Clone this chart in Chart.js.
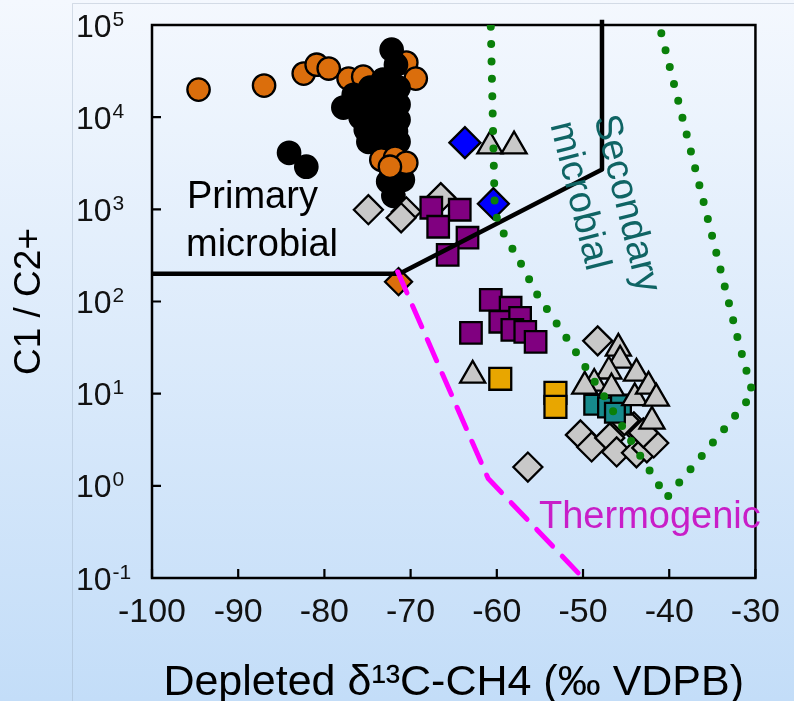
<!DOCTYPE html>
<html><head><meta charset="utf-8">
<script src="https://cdn.jsdelivr.net/npm/chart.js@4.4.1/dist/chart.umd.min.js"></script>
<style>html,body{margin:0;padding:0;background:#dbe9fb;overflow:hidden}canvas{display:block}</style>
</head><body>
<canvas id="c" width="794" height="701"></canvas>
<script>
// ---- axis ticks ----
const xTickValues = [-100, -90, -80, -70, -60, -50, -40, -30];
const yTickValues = [0.1, 1, 10, 100, 1000, 10000, 100000];
const yTickExponents = ['-1', '0', '1', '2', '3', '4', '5'];
const xTitle = 'Depleted \u03B4\u00B9\u00B3C-CH4 (\u2030 VDPB)';
const yTitle = 'C1 / C2+';

// ---- data series [delta13C, C1/C2+] ----
const orangeCirclesBack = [[-94.6,19900],[-87.0,22000],[-82.4,29700],[-80.9,37100],[-79.5,33700],[-77.2,26200],[-75.5,27500],[-70.5,39100],[-69.4,26200]];
const blackCircles = [[-72.2,54000],[-71.7,37100],[-73.2,25500],[-74.7,20900],[-72.6,19900],[-71.4,20900],[-76.6,17500],[-77.8,12700],[-76.0,13700],[-74.3,15500],[-72.4,14700],[-71.4,13700],[-75.8,9900],[-74.0,10600],[-72.0,9900],[-71.4,9400],[-75.2,7300],[-73.5,7300],[-71.7,7000],[-74.9,5400],[-72.9,5000],[-71.4,5400],[-72.4,4200],[-72.6,2000],[-70.9,2090],[-72.0,1400],[-84.1,4100],[-82.1,2900]];
const orangeCirclesFront = [[-73.4,3460],[-71.8,3630],[-70.5,3200],[-72.4,2900]];
const grayDiamonds = [[-74.9,990],[-70.5,940],[-71.1,810],[-66.5,1340],[-56.4,1.6],[-48.3,37.4],[-50.3,3.57],[-49.0,2.64],[-46.9,3.31],[-46.1,2.33],[-43.8,2.28],[-42.6,2.58],[-41.8,2.92],[-44.1,4.37],[-43.0,3.75],[-45.2,5.1]];
const tealSquares = [[-48.7,7.6],[-47.1,7.1],[-45.6,7.6],[-46.3,6.2]];
const blueDiamonds = [[-63.7,5290],[-60.4,1150]];
const grayTriangles = [[-60.8,4850],[-58.0,4850],[-62.8,15.8],[-45.9,31],[-45.7,23],[-43.8,16.6],[-47.0,17.5],[-48.7,12.9],[-46.7,11.5],[-44.0,9.0],[-42.4,12],[-42.0,5.0],[-49.8,12],[-41.5,8.9]];
const purpleSquares = [[-67.6,1040],[-64.3,990],[-66.8,647],[-63.4,492],[-65.7,321],[-60.7,104],[-58.4,85.5],[-59.6,60.3],[-57.3,66.5],[-58.2,49.3],[-56.7,46.9],[-55.5,36.5],[-63.0,45.7]];
const amberSquares = [[-59.6,14.5],[-53.2,10.2],[-53.2,7.2]];
const orangeDiamonds = [[-71.4,164]];

// ---- field boundaries ----
const primaryBoundary = [[-100,200],[-71.3,200],[-47.8,2700],[-47.8,114000]];
const thermogenicBoundary = [[-71.5,210],[-61,1.2],[-50,0.1]];
const secondaryBoundary = [[-60.7,96000],[-60.25,1120],[-59.9,716],[-58.8,468],[-57.5,291],[-55.3,118],[-51.3,33],[-47.5,9.2],[-43.8,2.45],[-41.2,1.02],[-40.3,0.74],[-38.7,1.13],[-37.0,1.73],[-33.6,4.15],[-30.3,9.95],[-31.9,34.7],[-33.4,127],[-41.1,95000]];

const FONT = '"Liberation Sans", Arial, Helvetica, sans-serif';
const pts = a => a.map(p => ({x: p[0], y: p[1]}));

function marker(data, style, radius, fill, order, bw) {
  return {data: pts(data), pointStyle: style, pointRadius: radius, pointBackgroundColor: fill,
    pointBorderColor: '#000', pointBorderWidth: bw || 2.3, showLine: false, order: order};
}
function line(data, color, width, dash, cap, order, clip) {
  const d = {data: pts(data), showLine: true, pointRadius: 0, borderColor: color, borderWidth: width,
    borderDash: dash, borderCapStyle: cap, borderJoinStyle: 'round', tension: 0, fill: false, order: order};
  if (clip === false) d.clip = false;
  return d;
}

const decor = {
  id: 'decor',
  beforeDraw(chart) {
    const {ctx, width, height} = chart;
    const g = ctx.createLinearGradient(0, 0, 0, height);
    g.addColorStop(0, '#f4f8fe');
    g.addColorStop(1, '#c3ddf8');
    ctx.save();
    ctx.fillStyle = g;
    ctx.fillRect(0, 0, width, height);
    ctx.strokeStyle = 'rgba(150,165,185,0.35)';
    ctx.lineWidth = 1;
    ctx.beginPath();
    ctx.moveTo(72.5, height); ctx.lineTo(72.5, 3.5); ctx.lineTo(width, 3.5);
    ctx.stroke();
    ctx.restore();
  },
  beforeDatasetsDraw(chart) {
    const {ctx, chartArea: a, scales: {x, y}} = chart;
    ctx.save();
    ctx.strokeStyle = '#000';
    ctx.lineWidth = 2.5;
    ctx.strokeRect(a.left, a.top, a.right - a.left, a.bottom - a.top);
    ctx.lineWidth = 2.2;
    ctx.beginPath();
    xTickValues.forEach(v => { const px = x.getPixelForValue(v); ctx.moveTo(px, a.bottom); ctx.lineTo(px, a.bottom - 9); });
    yTickValues.forEach(v => { const py = y.getPixelForValue(v); ctx.moveTo(a.left, py); ctx.lineTo(a.left + 9, py); });
    ctx.stroke();
    // y tick labels: 10 with superscript exponent
    ctx.fillStyle = '#111';
    ctx.textAlign = 'left';
    yTickValues.forEach((v, i) => {
      const py = y.getPixelForValue(v);
      ctx.font = '32px ' + FONT;
      ctx.textBaseline = 'alphabetic';
      ctx.fillText('10', 76, py + 11.5);
      const w = ctx.measureText('10').width;
      ctx.font = '21px ' + FONT;
      ctx.fillText(yTickExponents[i], 76 + w + 1, py + 0.5);
    });
    ctx.restore();
  },
  afterDatasetsDraw(chart) {
    const {ctx} = chart;
    ctx.save();
    ctx.font = '38px ' + FONT;
    ctx.textAlign = 'left';
    ctx.textBaseline = 'alphabetic';
    ctx.fillStyle = '#000';
    ctx.fillText('Primary', 187, 208);
    ctx.fillText('microbial', 186, 256);
    ctx.fillStyle = '#c81ec8';
    ctx.fillText('Thermogenic', 539, 528);
    ctx.translate(594, 118);
    ctx.rotate(76 * Math.PI / 180);
    ctx.fillStyle = '#0f6464';
    ctx.fillText('Secondary', 0, 0);
    ctx.fillText('microbial', -4, 44);
    ctx.restore();
  }
};

new Chart(document.getElementById('c'), {
  type: 'scatter',
  data: {
    datasets: [
      line(thermogenicBoundary, '#ff00ff', 5, [23, 14], 'round', 1),
      line(secondaryBoundary, '#0a800a', 8, [0, 17.4], 'round', 2),
      line(primaryBoundary, '#000', 4.5, [], 'butt', 3, false),
      marker(orangeDiamonds, 'rectRot', 13.5, '#db6e0c', 4),
      marker(amberSquares, 'rect', 15.5, '#e8a600', 5),
      marker(purpleSquares, 'rect', 15.2, '#800080', 6),
      marker(grayTriangles, 'triangle', 14.5, '#c8c8c8', 7),
      marker(blueDiamonds, 'rectRot', 15.5, '#0000ff', 8),
      marker(tealSquares, 'rect', 14, '#168a8c', 9),
      marker(grayDiamonds, 'rectRot', 14.5, '#c8c8c8', 10),
      marker(orangeCirclesFront, 'circle', 11.2, '#db6e0c', 11),
      marker(blackCircles, 'circle', 11.2, '#000', 12),
      marker(orangeCirclesBack, 'circle', 11.2, '#db6e0c', 13)
    ]
  },
  options: {
    responsive: false,
    animation: false,
    devicePixelRatio: 1,
    events: [],
    layout: {padding: {left: 0, right: 35, top: 25, bottom: 0}},
    plugins: {legend: {display: false}, tooltip: {enabled: false}},
    scales: {
      x: {
        type: 'linear', min: -100, max: -30,
        grid: {display: false, drawTicks: false},
        border: {display: false},
        afterBuildTicks: s => { s.ticks = xTickValues.map(v => ({value: v})); },
        afterFit: s => { s.height = 123; },
        ticks: {autoSkip: false, maxRotation: 0, padding: 14, color: '#111',
          font: {family: FONT, size: 34}, callback: v => String(v)},
        title: {display: true, text: xTitle, color: '#000', padding: 0,
          font: {family: FONT, size: 43, lineHeight: 0.84}}
      },
      y: {
        type: 'logarithmic', min: 0.1, max: 100000,
        grid: {display: false, drawTicks: false},
        border: {display: false},
        afterBuildTicks: s => { s.ticks = yTickValues.map(v => ({value: v})); },
        afterFit: s => { s.width = 152; },
        ticks: {display: false},
        title: {display: true, text: yTitle, color: '#000', padding: {top: 8, bottom: 0},
          font: {family: FONT, size: 37}}
      }
    }
  },
  plugins: [decor]
});
</script>
</body></html>
